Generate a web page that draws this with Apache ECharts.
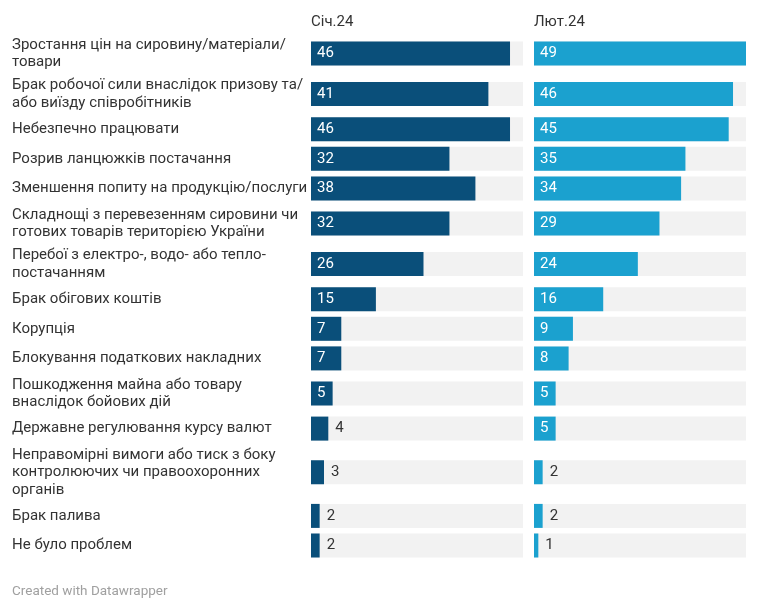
<!DOCTYPE html>
<html>
<head>
<meta charset="utf-8">
<script src="https://cdn.jsdelivr.net/npm/echarts@6/dist/echarts.min.js"></script>
<style>
html, body { margin: 0; padding: 0; background: #fff; }
#chart { width: 764px; height: 612px; }
</style>
</head>
<body>
<div id="chart"></div>
<script>
var categories = [
	'Зростання цін на сировину/матеріали/\nтовари',
	'Брак робочої сили внаслідок призову та/\nабо виїзду співробітників',
	'Небезпечно працювати',
	'Розрив ланцюжків постачання',
	'Зменшення попиту на продукцію/послуги',
	'Складнощі з перевезенням сировини чи\nготових товарів територією України',
	'Перебої з електро-, водо- або тепло-\nпостачанням',
	'Брак обігових коштів',
	'Корупція',
	'Блокування податкових накладних',
	'Пошкодження майна або товару\nвнаслідок бойових дій',
	'Державне регулювання курсу валют',
	'Неправомірні вимоги або тиск з боку\nконтролюючих чи правоохоронних\nорганів',
	'Брак палива',
	'Не було проблем'
];
var janValues = [46, 41, 46, 32, 38, 32, 26, 15, 7, 7, 5, 4, 3, 2, 2];
var febValues = [49, 46, 45, 35, 34, 29, 24, 16, 9, 8, 5, 5, 2, 2, 1];
var columnTitles = ['Січ.24', 'Лют.24'];
var maxValue = 49;

var font = 'Roboto, "Noto Sans", sans-serif';
var colors = ['#0a4f7a', '#1ba1cf'];
var columnLeft = [311, 534];
var columnWidth = 212;
// row height depends on how many lines the label wraps to
var rowHeights = { 1: 29.6, 2: 40.6, 3: 57.7 };

function valueLabel(v) {
	var inside = v >= 5;
	return {
		show: true,
		position: inside ? 'insideLeft' : 'right',
		distance: inside ? 6 : 7,
		color: inside ? '#ffffff' : '#333333',
		fontSize: 15,
		fontFamily: font
	};
}

var grids = [], xAxes = [], yAxes = [], series = [];
var rowTop = 33.2;
for (var i = 0; i < categories.length; i++) {
	var lines = categories[i].split('\n').length;
	var h = rowHeights[lines];
	var cols = [janValues, febValues];
	for (var c = 0; c < 2; c++) {
		var idx = grids.length;
		grids.push({ left: columnLeft[c], width: columnWidth, top: rowTop, height: h });
		xAxes.push({ gridIndex: idx, type: 'value', min: 0, max: maxValue, show: false });
		yAxes.push({
			gridIndex: idx,
			type: 'category',
			data: [categories[i]],
			axisLine: { show: false },
			axisTick: { show: false },
			axisLabel: c == 0 ? {
				align: 'left',
				margin: 299,
				fontSize: 15,
				lineHeight: 17.5,
				color: '#333',
				fontFamily: font
			} : { show: false }
		});
		series.push({
			name: columnTitles[c],
			type: 'bar',
			xAxisIndex: idx,
			yAxisIndex: idx,
			barWidth: 24,
			data: [{ value: cols[c][i], label: valueLabel(cols[c][i]) }],
			itemStyle: { color: colors[c] },
			showBackground: true,
			backgroundStyle: { color: '#f2f2f2' }
		});
	}
	rowTop += h;
}

var myChart = echarts.init(document.getElementById('chart'));
var option = {
	animation: false,
	title: [
		{ text: columnTitles[0], left: 311, top: 15, padding: 0, textStyle: { fontSize: 15, fontWeight: 'normal', color: '#333', fontFamily: font } },
		{ text: columnTitles[1], left: 534, top: 15, padding: 0, textStyle: { fontSize: 15, fontWeight: 'normal', color: '#333', fontFamily: font } },
		{ text: 'Created with Datawrapper', left: 12, top: 584.5, padding: 0, textStyle: { fontSize: 13.5, fontWeight: 'normal', color: '#a0a0a0', fontFamily: font } }
	],
	grid: grids,
	xAxis: xAxes,
	yAxis: yAxes,
	series: series
};
myChart.setOption(option);
</script>
</body>
</html>
